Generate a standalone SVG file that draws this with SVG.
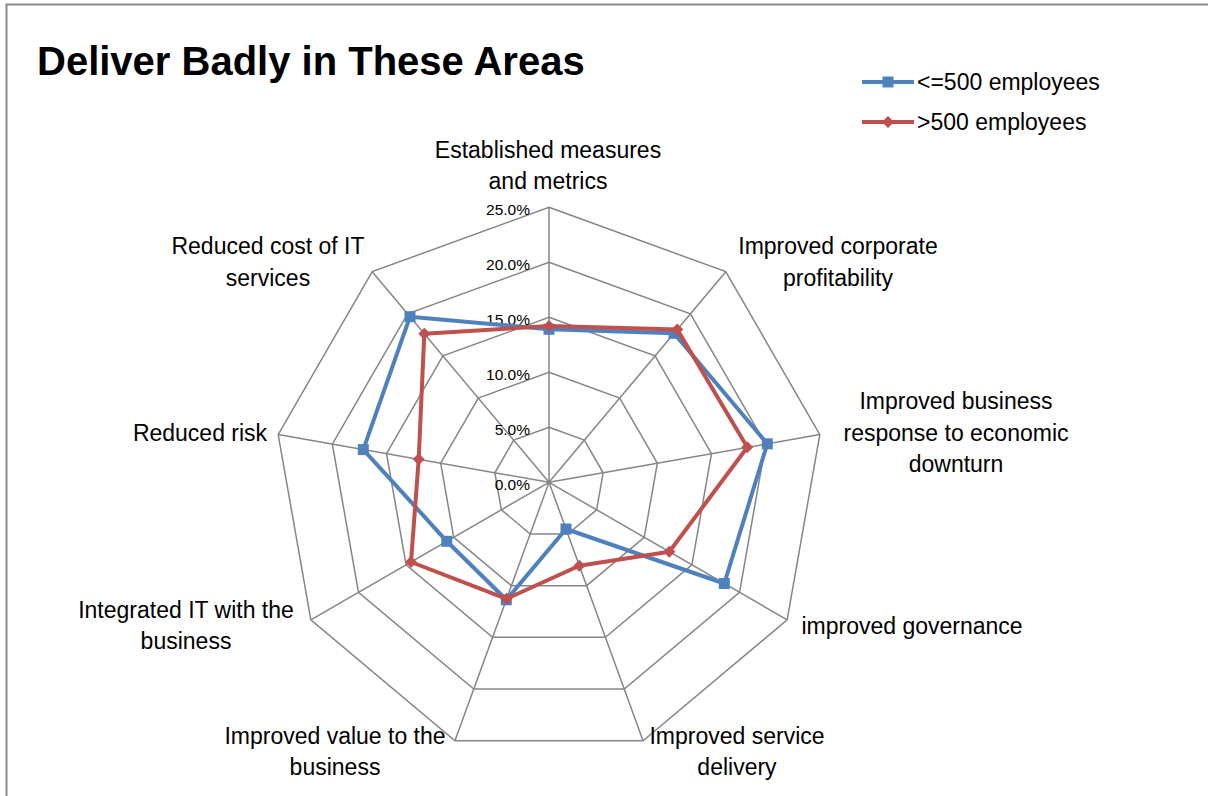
<svg xmlns="http://www.w3.org/2000/svg" width="1208" height="796" viewBox="0 0 1208 796">
<style>
.frame{stroke:#8c8c8c;stroke-width:2;fill:none}
.grid{stroke:#868686;stroke-width:1.5;fill:none}
.title{font-family:"Liberation Sans",Arial,sans-serif;font-weight:bold;font-size:40px;fill:#000}
.lbl{font-family:"Liberation Sans",Arial,sans-serif;font-size:23px;fill:#000;text-anchor:middle}
.leg{font-family:"Liberation Sans",Arial,sans-serif;font-size:23px;fill:#000}
.tick{font-family:"Liberation Sans",Arial,sans-serif;font-size:15.5px;fill:#000;text-anchor:end}
.blue{stroke:#4F81BD;stroke-width:4;fill:none;stroke-linejoin:round}
.red{stroke:#C0504D;stroke-width:4;fill:none;stroke-linejoin:round}
</style>
<defs>
<rect id="sq" x="-5.5" y="-5.5" width="11" height="11" fill="#4F81BD"/>
<polygon id="dm" points="0,-6 6,0 0,6 -6,0" fill="#C0504D"/>
</defs>
<rect width="1208" height="796" fill="#fff"/>
<path class="frame" d="M6.5,796 V4.5 H1208"/>
<text class="title" x="37" y="75">Deliver Badly in These Areas</text>

<g id="grid">
<polygon class="grid" points="549,427.3 584.35,440.17 603.16,472.75 596.63,509.8 567.81,533.98 530.19,533.98 501.37,509.8 494.84,472.75 513.65,440.17"/>
<polygon class="grid" points="549,372.3 619.71,398.04 657.33,463.2 644.26,537.3 586.62,585.67 511.38,585.67 453.74,537.3 440.67,463.2 478.29,398.04"/>
<polygon class="grid" points="549,317.3 655.06,355.91 711.49,453.66 691.89,564.8 605.43,637.35 492.57,637.35 406.11,564.8 386.51,453.66 442.94,355.91"/>
<polygon class="grid" points="549,262.3 690.42,313.78 765.66,444.11 739.52,592.3 624.24,689.03 473.76,689.03 358.48,592.3 332.34,444.11 407.58,313.78"/>
<polygon class="grid" points="549,207.3 725.77,271.65 819.82,434.56 787.15,619.8 643.05,740.72 454.95,740.72 310.85,619.8 278.18,434.56 372.23,271.65"/>
<path class="grid" d="M549,482.3 L549,207.3 M549,482.3 L725.77,271.65 M549,482.3 L819.82,434.56 M549,482.3 L787.15,619.8 M549,482.3 L643.05,740.72 M549,482.3 L454.95,740.72 M549,482.3 L310.85,619.8 M549,482.3 L278.18,434.56 M549,482.3 L372.23,271.65"/>
</g>

<g id="ticks">
<text class="tick" x="530" y="215">25.0%</text>
<text class="tick" x="530" y="270">20.0%</text>
<text class="tick" x="530" y="325">15.0%</text>
<text class="tick" x="530" y="380">10.0%</text>
<text class="tick" x="530" y="435">5.0%</text>
<text class="tick" x="530" y="490">0.0%</text>
</g>

<g id="series-small">
<polygon class="blue" points="549,329.3 674,333.3 767.3,443.8 724.3,583.5 566,529 506.3,599.8 446.8,541.3 363.3,449.6 410,316.7"/>
<use href="#sq" x="549" y="329.3"/>
<use href="#sq" x="674" y="333.3"/>
<use href="#sq" x="767.3" y="443.8"/>
<use href="#sq" x="724.3" y="583.5"/>
<use href="#sq" x="566" y="529"/>
<use href="#sq" x="506.3" y="599.8"/>
<use href="#sq" x="446.8" y="541.3"/>
<use href="#sq" x="363.3" y="449.6"/>
<use href="#sq" x="410" y="316.7"/>
</g>

<g id="series-large">
<polygon class="red" points="549,326 677.3,329.4 747.3,447.3 669.3,551.8 579.3,565.7 506.6,598.8 411,562 418.7,459.3 424.3,333.7"/>
<use href="#dm" x="549" y="326"/>
<use href="#dm" x="677.3" y="329.4"/>
<use href="#dm" x="747.3" y="447.3"/>
<use href="#dm" x="669.3" y="551.8"/>
<use href="#dm" x="579.3" y="565.7"/>
<use href="#dm" x="506.6" y="598.8"/>
<use href="#dm" x="411" y="562"/>
<use href="#dm" x="418.7" y="459.3"/>
<use href="#dm" x="424.3" y="333.7"/>
</g>

<g id="label-measures"><text class="lbl" x="548" y="158">Established measures</text><text class="lbl" x="548" y="189">and metrics</text></g>
<g id="label-profit"><text class="lbl" x="838" y="254">Improved corporate</text><text class="lbl" x="838" y="286">profitability</text></g>
<g id="label-response"><text class="lbl" x="956" y="409">Improved business</text><text class="lbl" x="956" y="441">response to economic</text><text class="lbl" x="956" y="472">downturn</text></g>
<g id="label-governance"><text class="lbl" x="912" y="634">improved governance</text></g>
<g id="label-service"><text class="lbl" x="737" y="744">Improved service</text><text class="lbl" x="737" y="775">delivery</text></g>
<g id="label-value"><text class="lbl" x="335" y="744">Improved value to the</text><text class="lbl" x="335" y="775">business</text></g>
<g id="label-integrated"><text class="lbl" x="186" y="618">Integrated IT with the</text><text class="lbl" x="186" y="649">business</text></g>
<g id="label-risk"><text class="lbl" x="200" y="441">Reduced risk</text></g>
<g id="label-cost"><text class="lbl" x="268" y="254">Reduced cost of IT</text><text class="lbl" x="268" y="286">services</text></g>

<g id="legend">
<line x1="862" y1="82" x2="914" y2="82" class="blue"/>
<use href="#sq" x="888" y="82"/>
<text class="leg" x="917" y="90">&lt;=500 employees</text>
<line x1="862" y1="122" x2="914" y2="122" class="red"/>
<use href="#dm" x="888" y="122"/>
<text class="leg" x="917" y="130">&gt;500 employees</text>
</g>
</svg>
